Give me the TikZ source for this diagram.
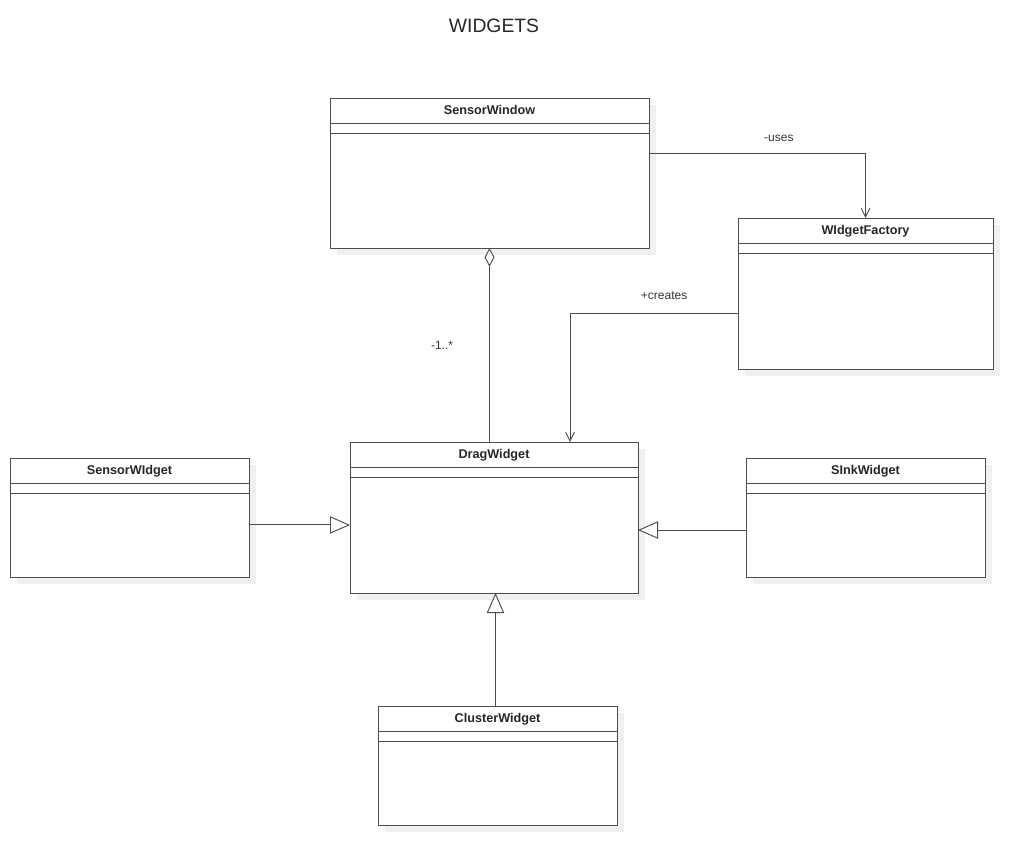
\documentclass[tikz,border=0pt]{standalone}
\usepackage{fontspec}
\setmainfont{Liberation Sans}
\usetikzlibrary{arrows.meta,shadows}

\begin{document}
\begin{tikzpicture}[x=0.75pt, y=-0.75pt,
  classbox/.style={draw=black!70, line width=0.7pt, fill=white, anchor=north west, inner sep=0pt, outer sep=0pt,
    drop shadow={shadow xshift=5.25pt, shadow yshift=-5.25pt, fill=black!6, draw=none, opacity=1}},
  classname/.style={anchor=center, yshift=-10.2pt, text=black!85, font=\bfseries\fontsize{9.5}{11}\selectfont, text height=7pt, text depth=2pt},
  lbl/.style={text=black!80, font=\fontsize{9}{11}\selectfont, inner sep=1pt},
  conn/.style={draw=black!70, line width=0.7pt},
  uses/.style={conn, -{Straight Barb[length=6.5pt, width=6.5pt]}},
  inherit/.style={conn, -{Triangle[fill=white, length=15pt, width=13pt]}},
  aggr/.style={conn, {Diamond[fill=white, length=14pt, width=7.5pt]}-}]

\useasboundingbox (0,0) rectangle (1033,866);

% Title
\node[text=black!85, font=\fontsize{14.5}{17}\selectfont] (title) at (494,26) {WIDGETS};

% Classes
\node[classbox, minimum width={319*0.75pt}, minimum height={150*0.75pt}, label={[classname]north:SensorWindow}] (sw) at (330,98) {};
\node[classbox, minimum width={255*0.75pt}, minimum height={151*0.75pt}, label={[classname]north:WIdgetFactory}] (wf) at (738,218) {};
\node[classbox, minimum width={288*0.75pt}, minimum height={151*0.75pt}, label={[classname]north:DragWidget}] (dw) at (350,442) {};
\node[classbox, minimum width={239*0.75pt}, minimum height={119*0.75pt}, label={[classname]north:SensorWIdget}] (sensw) at (10,458) {};
\node[classbox, minimum width={239*0.75pt}, minimum height={119*0.75pt}, label={[classname]north:SInkWidget}] (sink) at (746,458) {};
\node[classbox, minimum width={239*0.75pt}, minimum height={119*0.75pt}, label={[classname]north:ClusterWidget}] (cl) at (378,706) {};

% Compartments
\foreach \n in {sw, wf, dw, sensw, sink, cl} {
  \draw[conn] ([yshift=-19pt]\n.north west) -- ([yshift=-19pt]\n.north east);
  \draw[conn] ([yshift=-26.5pt]\n.north west) -- ([yshift=-26.5pt]\n.north east);
}

% Connectors
\draw[uses] ([yshift=15pt]sw.east) -| (wf.north) node[pos=0.3, above=7pt, lbl] {-uses};
\draw[uses] ([yshift=-15pt]wf.west) -| ([xshift=57pt]dw.north) node[pos=0.22, above=9pt, lbl] {+creates};
\draw[aggr] (sw.south) -- (sw.south |- dw.north) node[midway, left=26pt, lbl] {-1..*};
\draw[inherit] ([yshift=-5.6pt]sensw.east) -- ([yshift=-5.6pt]sensw.east -| dw.west);
\draw[inherit] ([yshift=-9.4pt]sink.west) -- ([yshift=-9.4pt]sink.west -| dw.east);
\draw[inherit] ([xshift=-1.5pt]cl.north) -- ([xshift=-1.5pt]cl.north |- dw.south);

\end{tikzpicture}
\end{document}
